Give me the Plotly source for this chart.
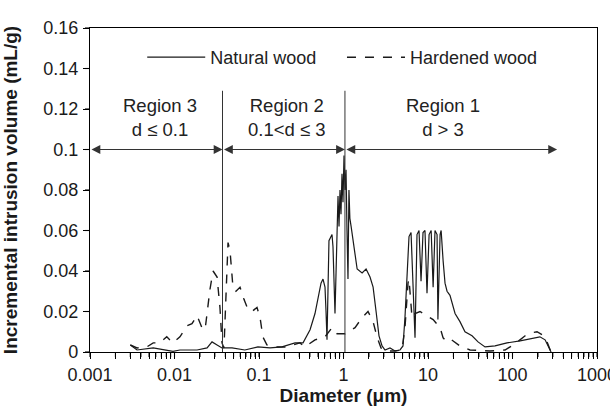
import math
import plotly.graph_objects as go

# ---- data ----
natural_d = [0.0030, 0.0036, 0.0056, 0.0081, 0.0096, 0.0116, 0.0185, 0.0243, 0.0278, 0.0319,
             0.0365, 0.048, 0.068, 0.097, 0.135, 0.187, 0.267, 0.332, 0.360, 0.402,
             0.460, 0.499, 0.542, 0.572, 0.604, 0.621, 0.638, 0.655, 0.673, 0.731,
             0.751, 0.793, 0.838, 0.861, 0.885, 0.909, 0.934, 0.960, 0.986, 1.014,
             1.042, 1.071, 1.100, 1.13, 1.16, 1.19, 1.23, 1.30, 1.45, 1.66,
             1.85, 2.06, 2.24, 2.43, 2.63, 2.86, 3.10, 3.55, 4.07, 4.66,
             5.06, 5.34, 5.64, 5.96, 6.30, 6.65, 7.02, 7.41, 7.83, 8.27,
             8.73, 9.21, 9.73, 10.3, 10.9, 11.5, 12.1, 12.8, 13.1, 13.9,
             14.3, 15.1, 15.9, 16.8, 18.2, 20.9, 23.9, 27.4, 33.2, 39.1,
             47.3, 62.1, 86.1, 123, 175, 211, 243, 263, 286]
natural_v = [0.0035, 0.001, 0.002, 0.001, 0.0003, 0.001, 0.001, 0.002, 0.005, 0.0035,
             0.002, 0.002, 0.001, 0.0025, 0.002, 0.0025, 0.0045, 0.0045, 0.007, 0.011,
             0.019, 0.027, 0.034, 0.036, 0.032, 0.020, 0.006, 0.030, 0.055, 0.058,
             0.052, 0.019, 0.062, 0.077, 0.062, 0.080, 0.068, 0.088, 0.074, 0.097,
             0.080, 0.090, 0.060, 0.036, 0.080, 0.066, 0.062, 0.055, 0.041, 0.039,
             0.041, 0.037, 0.032, 0.020, 0.008, 0.003, 0.001, 0.002, 0.0005, 0.001,
             0.003, 0.017, 0.040, 0.057, 0.059, 0.030, 0.007, 0.058, 0.060, 0.035,
             0.059, 0.060, 0.029, 0.058, 0.060, 0.032, 0.060, 0.058, 0.016, 0.058,
             0.060, 0.045, 0.034, 0.030, 0.028, 0.019, 0.015, 0.010, 0.008, 0.005,
             0.0025, 0.003, 0.0045, 0.0055, 0.007, 0.0075, 0.006, 0.003, 0.0]

hardened_d = [0.0030, 0.0036, 0.0047, 0.0056, 0.0067, 0.0081, 0.0096, 0.0116, 0.0141, 0.0161,
              0.0185, 0.0211, 0.0230, 0.0263, 0.0286, 0.0319, 0.0345, 0.0365, 0.0385, 0.0407,
              0.043, 0.0454, 0.0492, 0.0534, 0.0596, 0.0664, 0.0741, 0.0826, 0.0947, 0.103,
              0.111, 0.124, 0.155, 0.214, 0.252, 0.305, 0.350, 0.460, 0.604, 0.731,
              0.838, 1.042, 1.37, 1.66, 1.95, 2.24, 2.49, 2.78, 3.10, 4.07,
              4.92, 5.34, 5.80, 5.96, 6.47, 7.02, 8.04, 9.73, 11.5, 13.9,
              15.1, 16.8, 19.0, 23.9, 31.4, 54.2, 81.5, 107, 141, 170,
              195, 224, 256, 286]
hardened_v = [0.0035, 0.002, 0.0025, 0.0045, 0.0045, 0.0075, 0.0045, 0.0075, 0.013, 0.014,
              0.018, 0.012, 0.011, 0.031, 0.040, 0.037, 0.022, 0.0045, 0.002, 0.030,
              0.054, 0.050, 0.032, 0.030, 0.032, 0.026, 0.021, 0.020, 0.022, 0.017,
              0.0075, 0.0035, 0.0025, 0.0025, 0.0035, 0.0045, 0.0025, 0.006, 0.0075, 0.012,
              0.009, 0.009, 0.012, 0.017, 0.020, 0.015, 0.0075, 0.002, 0.0005, 0.0005,
              0.001, 0.012, 0.034, 0.036, 0.017, 0.019, 0.020, 0.018, 0.016, 0.012,
              0.007, 0.005, 0.006, 0.003, 0.001, 0.0005, 0.001, 0.004, 0.008, 0.0095,
              0.010, 0.0085, 0.005, 0.0]

series_names = ["Natural wood", "Hardened wood"]

x_major_vals = [0.001, 0.01, 0.1, 1, 10, 100, 1000]
x_major_text = ["0.001", "0.01", "0.1", "1", "10", "100", "1000"]
y_tick_vals = [0, 0.02, 0.04, 0.06, 0.08, 0.1, 0.12, 0.14, 0.16]
y_tick_text = ["0", "0.02", "0.04", "0.06", "0.08", "0.1", "0.12", "0.14", "0.16"]

# region boundaries as drawn in the figure
region_bounds = [0.001, 0.037, 1.04, 337]
region_arrow_y = 0.1
region_line_top = 0.129
region_labels = ["Region 3<br>d ≤ 0.1", "Region 2<br>0.1&lt;d ≤ 3", "Region 1<br>d &gt; 3"]
region_label_x = [0.0067, 0.214, 15.1]
region_label_y = 0.116

FONT = "Liberation Sans, Arial, sans-serif"
INK = "#000000"

X_LOG_RANGE = [-3, 3]
Y_RANGE = [0, 0.16]
PLOT_W = 610 - 90 - 13
PLOT_H = 409 - 28 - 57
TICK_PX = 5

# tick positions: decades labelled, 2..9 of each decade unlabelled
minor_vals = [m * 10.0 ** e for e in range(-3, 3) for m in range(2, 10)]
x_tick_vals = x_major_vals + minor_vals
x_tick_text = x_major_text + [""] * len(minor_vals)

fig = go.Figure()
fig.add_trace(go.Scatter(x=natural_d, y=natural_v, mode="lines", name=series_names[0],
                         legend="legend",
                         line=dict(color="#1a1a1a", width=1.2, dash="solid")))
fig.add_trace(go.Scatter(x=hardened_d, y=hardened_v, mode="lines", name=series_names[1],
                         legend="legend2",
                         line=dict(color="#1a1a1a", width=1.4, dash="dash")))

# vertical region separators
for b in region_bounds[1:3]:
    fig.add_trace(go.Scatter(x=[b, b], y=[0, region_line_top], mode="lines", showlegend=False,
                             hoverinfo="skip", line=dict(color="#333333", width=1)))

# outward tick marks drawn as paper-referenced shapes at the tick positions
shapes = []
for v in x_tick_vals:
    xp = (math.log10(v) - X_LOG_RANGE[0]) / (X_LOG_RANGE[1] - X_LOG_RANGE[0])
    shapes.append(dict(type="line", xref="paper", yref="paper", x0=xp, x1=xp,
                       y0=0, y1=-TICK_PX / PLOT_H, line=dict(color=INK, width=1.1)))
for v in y_tick_vals:
    yp = (v - Y_RANGE[0]) / (Y_RANGE[1] - Y_RANGE[0])
    shapes.append(dict(type="line", xref="paper", yref="paper", x0=0, x1=-TICK_PX / PLOT_W,
                       y0=yp, y1=yp, line=dict(color=INK, width=1.1)))

annotations = []
for i in range(3):
    x0 = math.log10(region_bounds[i])
    x1 = math.log10(region_bounds[i + 1])
    annotations.append(dict(x=x1, y=region_arrow_y, ax=x0, ay=region_arrow_y,
                            xref="x", yref="y", axref="x", ayref="y", text="",
                            showarrow=True, arrowside="end+start", arrowhead=2,
                            arrowsize=1.6, arrowwidth=1.1, arrowcolor="#333333",
                            standoff=0, startstandoff=0))
    annotations.append(dict(x=math.log10(region_label_x[i]), y=region_label_y, xref="x", yref="y",
                            text=region_labels[i], showarrow=False, align="center",
                            font=dict(family=FONT, size=18.5, color="#222222")))

legend_style = dict(orientation="h", y=0.909, xanchor="left", yanchor="middle",
                    bgcolor="rgba(0,0,0,0)", font=dict(family=FONT, size=18, color="#222222"),
                    itemwidth=58)

fig.update_layout(
    template="none",
    width=610, height=409,
    margin=dict(l=90, r=13, t=28, b=57),
    paper_bgcolor="white", plot_bgcolor="white",
    font=dict(family=FONT, size=18, color="#1a1a1a"),
    showlegend=True,
    legend=dict(x=0.103, **legend_style),
    legend2=dict(x=0.497, **legend_style),
    annotations=annotations,
    shapes=shapes,
)
fig.update_xaxes(type="log", range=X_LOG_RANGE, tickmode="array", tickvals=x_tick_vals,
                 ticktext=x_tick_text,
                 ticks="outside", ticklen=6, tickwidth=1.1, tickcolor=INK,
                 ticklabeloverflow="allow",
                 showline=True, linecolor=INK, linewidth=1.2, mirror=True, showgrid=False,
                 zeroline=False, automargin=False, tickfont=dict(family=FONT, size=18, color="#1a1a1a"),
                 title=dict(text="<b>Diameter (μm)</b>", font=dict(family=FONT, size=19),
                            standoff=3))
fig.update_yaxes(range=Y_RANGE, tickmode="array", tickvals=y_tick_vals, ticktext=y_tick_text,
                 ticks="outside", ticklen=6, tickwidth=1.1, tickcolor=INK,
                 showline=True, linecolor=INK, linewidth=1.2, mirror=True, showgrid=False,
                 zeroline=False, automargin=False, tickfont=dict(family=FONT, size=18, color="#1a1a1a"),
                 ticklabelstandoff=1,
                 title=dict(text="<b>Incremental intrusion volume (mL/g)</b>",
                            font=dict(family=FONT, size=19), standoff=20))

fig.write_html("out.html", config={"displayModeBar": False},
               post_script="document.body.style.margin='0px';")
